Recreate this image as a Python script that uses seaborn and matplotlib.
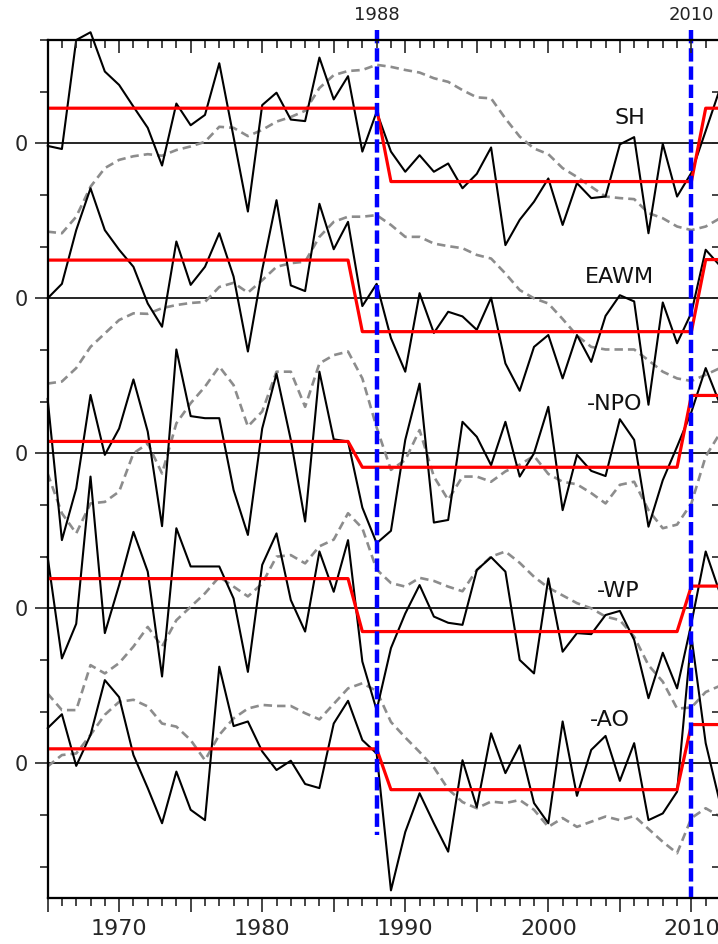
import numpy as np
import matplotlib
matplotlib.use("Agg")
import matplotlib.pyplot as plt
import seaborn as sns
from matplotlib.ticker import FixedLocator, FixedFormatter, NullFormatter
import matplotlib.transforms as mtransforms

# ---------------- data ----------------
years = list(range(1965, 2013))
series_names = ["SH", "EAWM", "-NPO", "-WP", "-AO"]
change_years = [1988, 2010]

sh = [-0.05, -0.11, 2.00, 2.15, 1.39, 1.13, 0.71, 0.30, -0.43, 0.77,
      0.35, 0.55, 1.55, 0.12, -1.32, 0.74, 0.98, 0.46, 0.43, 1.66,
      0.85, 1.30, -0.16, 0.61, -0.16, -0.55, -0.23, -0.55, -0.39, -0.87,
      -0.59, -0.08, -1.97, -1.48, -1.13, -0.68, -1.58, -0.77, -1.06, -1.03,
      -0.02, 0.12, -1.74, -0.01, -1.03, -0.57, 0.24, 1.06]
eawm = [0.00, 0.28, 1.32, 2.13, 1.32, 0.94, 0.61, -0.10, -0.55, 1.10,
        0.26, 0.61, 1.26, 0.42, -1.03, 0.55, 1.90, 0.25, 0.14, 1.83,
        0.95, 1.48, -0.15, 0.28, -0.77, -1.42, 0.10, -0.67, -0.26, -0.35,
        -0.61, 0.01, -1.26, -1.79, -0.94, -0.71, -1.55, -0.71, -1.23, -0.34,
        0.06, -0.06, -2.06, -0.08, -0.87, -0.28, 0.94, 0.63]
npo = [1.06, -1.68, -0.68, 1.13, -0.03, 0.48, 1.43, 0.42, -1.41, 2.01,
       0.72, 0.68, 0.68, -0.71, -1.58, 0.48, 1.54, 0.26, -1.32, 1.58,
       0.27, 0.23, -1.05, -1.74, -1.50, 0.26, 1.35, -1.34, -1.29, 0.61,
       0.32, -0.23, 0.61, -0.45, 0.00, 0.90, -1.10, -0.03, -0.34, -0.44,
       0.66, 0.26, -1.42, -0.52, 0.13, 0.80, 1.65, 0.95]
wp = [1.00, -0.97, -0.30, 2.55, -0.48, 0.45, 1.48, 0.71, -1.32, 1.55,
      0.81, 0.81, 0.81, 0.19, -1.23, 0.84, 1.45, 0.16, -0.45, 1.10,
      0.32, 1.32, -1.03, -1.97, -0.77, -0.10, 0.45, -0.16, -0.28, -0.32,
      0.74, 0.99, 0.71, -1.00, -1.26, 0.58, -0.84, -0.48, -0.50, -0.13,
      -0.05, -0.61, -1.74, -0.86, -1.55, -0.29, 1.10, 0.29]
ao = [0.68, 0.95, -0.05, 0.55, 1.61, 1.28, 0.16, -0.48, -1.16, -0.16,
      -0.90, -1.10, 1.87, 0.72, 0.81, 0.23, -0.13, 0.05, -0.40, -0.48,
      0.77, 1.21, 0.45, 0.19, -2.46, -1.33, -0.58, -1.16, -1.71, 0.06,
      -0.85, 0.58, -0.19, 0.35, -0.77, -1.16, 0.81, -0.63, 0.26, 0.53,
      -0.34, 0.39, -1.10, -0.97, -0.55, 2.46, 0.39, -0.77]

# smoothed (gray dashed) curves
sh_smooth = [-1.71, -1.74, -1.42, -0.84, -0.48, -0.32, -0.25, -0.21, -0.24, -0.13,
             -0.06, 0.03, 0.32, 0.30, 0.14, 0.26, 0.42, 0.51, 0.63, 1.07,
             1.32, 1.40, 1.42, 1.52, 1.48, 1.42, 1.37, 1.26, 1.19, 1.03,
             0.89, 0.87, 0.48, 0.13, -0.10, -0.21, -0.48, -0.65, -0.84, -1.03,
             -1.06, -1.08, -1.35, -1.45, -1.61, -1.68, -1.61, -1.45]
eawm_smooth = [-1.65, -1.61, -1.35, -0.94, -0.68, -0.42, -0.29, -0.30, -0.19, -0.13,
               -0.09, -0.07, 0.22, 0.30, 0.11, 0.35, 0.61, 0.68, 0.71, 1.19,
               1.48, 1.58, 1.58, 1.61, 1.42, 1.19, 1.19, 1.06, 1.01, 0.97,
               0.84, 0.77, 0.48, 0.16, 0.00, -0.10, -0.40, -0.72, -0.94, -0.99,
               -0.99, -0.99, -1.20, -1.42, -1.55, -1.60, -1.48, -1.35]
npo_smooth = [-0.39, -1.16, -1.55, -0.97, -0.94, -0.74, 0.00, 0.19, -0.39, 0.58,
              0.97, 1.29, 1.68, 1.32, 0.52, 0.81, 1.58, 1.58, 0.90, 1.74,
              1.90, 1.97, 1.45, 0.50, -0.32, -0.13, 0.45, -0.45, -0.90, -0.45,
              -0.45, -0.55, -0.35, -0.22, -0.05, -0.40, -0.55, -0.60, -0.77, -0.97,
              -0.61, -0.55, -1.10, -1.45, -1.38, -0.97, -0.06, 0.39]
wp_smooth = [-1.65, -1.97, -1.97, -1.10, -1.26, -1.06, -0.74, -0.36, -0.74, -0.23,
             0.03, 0.29, 0.61, 0.42, 0.23, 0.48, 1.00, 1.03, 0.87, 1.20,
             1.33, 1.84, 1.55, 0.75, 0.49, 0.42, 0.59, 0.53, 0.42, 0.33,
             0.74, 1.00, 1.10, 0.88, 0.61, 0.40, 0.25, 0.10, 0.00, -0.16,
             -0.23, -0.55, -1.10, -1.42, -1.94, -1.92, -1.62, -1.50]
ao_smooth = [-0.06, 0.16, 0.19, 0.55, 0.94, 1.19, 1.23, 1.10, 0.77, 0.71,
             0.45, 0.06, 0.55, 0.87, 1.06, 1.13, 1.11, 1.11, 0.97, 0.85,
             1.15, 1.45, 1.55, 1.40, 0.80, 0.50, 0.22, -0.08, -0.50, -0.75,
             -0.87, -0.74, -0.77, -0.71, -0.90, -1.23, -1.06, -1.23, -1.13, -1.03,
             -1.10, -1.02, -1.27, -1.52, -1.74, -1.06, -0.87, -1.03]

# regime means (red): level values and the first year of each regime
sh_mean_levels, sh_mean_starts = [0.68, -0.74, 0.68], [1965, 1989, 2011]
eawm_mean_levels, eawm_mean_starts = [0.74, -0.645, 0.75], [1965, 1987, 2011]
npo_mean_levels, npo_mean_starts = [0.23, -0.27, 1.12], [1965, 1987, 2010]
wp_mean_levels, wp_mean_starts = [0.575, -0.45, 0.43], [1965, 1987, 2010]
ao_mean_levels, ao_mean_starts = [0.28, -0.51, 0.75], [1965, 1989, 2010]


def regime_series(levels, starts):
    out = []
    for y in years:
        idx = max(i for i, s in enumerate(starts) if y >= s)
        out.append(levels[idx])
    return out


values = [sh, eawm, npo, wp, ao]
smooths = [sh_smooth, eawm_smooth, npo_smooth, wp_smooth, ao_smooth]
means = [regime_series(sh_mean_levels, sh_mean_starts),
         regime_series(eawm_mean_levels, eawm_mean_starts),
         regime_series(npo_mean_levels, npo_mean_starts),
         regime_series(wp_mean_levels, wp_mean_starts),
         regime_series(ao_mean_levels, ao_mean_starts)]
label_pos = [(2005.67, 12.49), (2004.97, 9.41), (2004.62, 6.95), (2004.9, 3.33), (2004.27, 0.84)]

# ---------------- figure ----------------
sns.set_style("white")
plt.rcParams['font.family'] = ['DejaVu Sans']

fig = plt.figure(figsize=(7.18, 9.44), dpi=100)
ax = fig.add_axes([47.6 / 718, 1 - 898 / 944, (720 - 47.6) / 718, (898 - 40) / 944])
ax.set_facecolor('white')

offsets = [12, 9, 6, 3, 0]
for vals, sm, mn, off, name, lp in zip(values, smooths, means, offsets, series_names, label_pos):
    ax.axhline(off, color='black', lw=1.2, zorder=1)
    sns.lineplot(x=years, y=np.array(sm) + off, ax=ax, color='#8c8c8c', lw=1.9, zorder=2)
    ax.get_lines()[-1].set_dashes([3.2, 1.9])
    sns.lineplot(x=years, y=np.array(vals) + off, ax=ax, color='black', lw=1.5, zorder=3)
    ax.get_lines()[-1].set_clip_on(False)
    sns.lineplot(x=years, y=np.array(mn) + off, ax=ax, color='#ff0000', lw=2.3, zorder=4)
    ax.text(lp[0], lp[1], name, fontsize=16, ha='center', va='center', color='#111111', zorder=6)

# change-point lines
ax.plot([change_years[0]] * 2, [14.19, -1.39], color='#0000ff', lw=3.2,
        dashes=(3, 1.1), zorder=5, clip_on=False, solid_capstyle='butt')
ax.plot([change_years[1]] * 2, [14.19, -2.607], color='#0000ff', lw=3.2,
        dashes=(3, 1.1), zorder=5, clip_on=False, solid_capstyle='butt')
trans = mtransforms.blended_transform_factory(ax.transData, ax.transAxes)
for cy in change_years:
    ax.text(cy, 1.029, str(cy), transform=trans, ha='center', va='center',
            fontsize=13, color='#222222')

ax.set_xlim(1965, 2012)
ax.set_ylim(-2.607, 14.0)
ax.set_xlabel('')
ax.set_ylabel('')

# x ticks (bottom outward)
major_x = list(range(1965, 2011, 5))
ax.xaxis.set_major_locator(FixedLocator(major_x))
ax.xaxis.set_major_formatter(FixedFormatter([str(v) if v % 10 == 0 else '' for v in major_x]))
ax.xaxis.set_minor_locator(FixedLocator(years))
ax.tick_params(axis='x', which='major', direction='out', length=10, width=1.2,
               labelsize=16, pad=5, bottom=True, top=False)
ax.tick_params(axis='x', which='minor', direction='out', length=5.8, width=1.2,
               bottom=True, top=False)

# y ticks (left, outward)
major_y = offsets[::-1]
ax.yaxis.set_major_locator(FixedLocator(major_y))
ax.yaxis.set_major_formatter(FixedFormatter(['0'] * len(major_y)))
ax.yaxis.set_minor_locator(FixedLocator([v for v in range(-2, 15) if v not in major_y]))
ax.tick_params(axis='y', which='major', direction='out', length=9.4, width=1.2,
               labelsize=15, pad=5, left=True, right=False, labelleft=True)
ax.tick_params(axis='y', which='minor', direction='out', length=5.8, width=1.2,
               left=True, right=False)

# top axis: ticks pointing down into the plot
top_ax = ax.twiny()
top_ax.set_xlim(ax.get_xlim())
top_ax.xaxis.set_major_locator(FixedLocator(major_x))
top_ax.xaxis.set_minor_locator(FixedLocator(years))
top_ax.xaxis.set_major_formatter(NullFormatter())
top_ax.tick_params(axis='x', which='major', direction='in', length=9.4, width=1.2,
                   top=True, bottom=False, labeltop=False)
top_ax.tick_params(axis='x', which='minor', direction='in', length=5.8, width=1.2,
                   top=True, bottom=False)

# right axis: ticks pointing into the plot
right_ax = ax.twinx()
right_ax.set_ylim(ax.get_ylim())
right_ax.yaxis.set_major_locator(FixedLocator(list(range(-2, 15))))
right_ax.yaxis.set_major_formatter(NullFormatter())
right_ax.tick_params(axis='y', which='major', direction='in', length=5.8, width=1.2,
                     right=True, left=False, labelright=False)

for a in (ax, top_ax, right_ax):
    for s in a.spines.values():
        s.set_linewidth(1.5)
        s.set_color('black')

fig.savefig('out.png', dpi=100, facecolor='white')
